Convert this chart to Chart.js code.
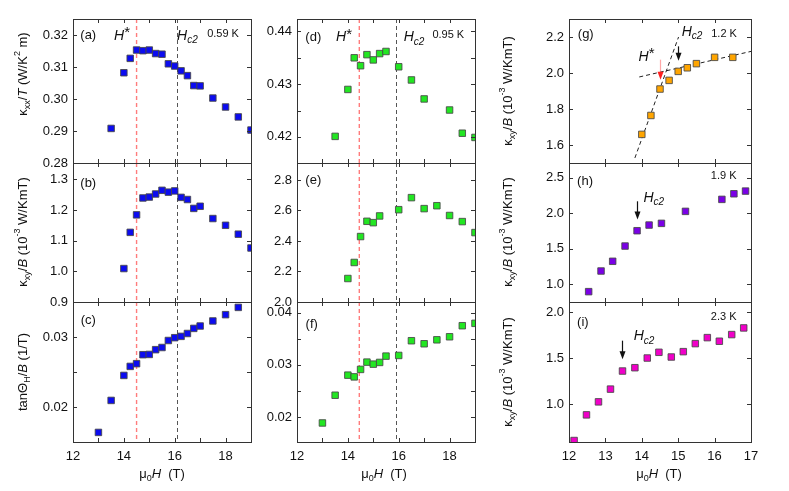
<!DOCTYPE html>
<html>
<head>
<meta charset="utf-8">
<title>Thermal Hall field scans</title>
<script src="https://cdn.jsdelivr.net/npm/chart.js@4.4.1/dist/chart.umd.min.js"></script>
<style>
  html, body { margin: 0; padding: 0; background: #fff; }
  #figure { position: relative; width: 789px; height: 491px; }
  #figure canvas { position: absolute; left: 0; top: 0; }
</style>
</head>
<body>
<div id="figure"></div>
<script>
// ===================================================
// DATA
// ===================================================

// column 1 : 0.59 K
const fieldA = [13.5, 14, 14.25, 14.5, 14.75, 15, 15.25, 15.5, 15.75, 16, 16.25, 16.5, 16.75, 17, 17.5, 18, 18.5, 19];
const kxxA = [0.2908, 0.3082, 0.3127, 0.3153, 0.3151, 0.3153, 0.3142, 0.3140, 0.3110, 0.3103, 0.3088, 0.3073, 0.3042, 0.3041, 0.3003, 0.2975, 0.2944, 0.2903];
const fieldB = [14, 14.25, 14.5, 14.75, 15, 15.25, 15.5, 15.75, 16, 16.25, 16.5, 16.75, 17, 17.5, 18, 18.5, 19];
const kxyB = [1.009, 1.127, 1.184, 1.239, 1.242, 1.252, 1.264, 1.258, 1.262, 1.241, 1.234, 1.205, 1.212, 1.172, 1.150, 1.121, 1.076];
const fieldC = [13, 13.5, 14, 14.25, 14.5, 14.75, 15, 15.25, 15.5, 15.75, 16, 16.25, 16.5, 16.75, 17, 17.5, 18, 18.5];
const tanC = [0.01637, 0.02094, 0.02451, 0.0258, 0.02619, 0.02747, 0.02751, 0.02819, 0.0285, 0.0295, 0.0299, 0.03009, 0.0305, 0.03123, 0.03157, 0.03229, 0.03319, 0.03423];

// column 2 : 0.95 K
const fieldD = [13.5, 14, 14.25, 14.5, 14.75, 15, 15.25, 15.5, 16, 16.5, 17, 18, 18.5, 19];
const kxxD = [0.4201, 0.4290, 0.4350, 0.4335, 0.4356, 0.4346, 0.4358, 0.4362, 0.4333, 0.4308, 0.4272, 0.4251, 0.4207, 0.4199];
const fieldE = [14, 14.25, 14.5, 14.75, 15, 15.25, 16, 16.5, 17, 17.5, 18, 18.5, 19];
const kxyE = [2.154, 2.259, 2.429, 2.529, 2.520, 2.564, 2.605, 2.684, 2.612, 2.631, 2.567, 2.527, 2.455];
const fieldF = [13, 13.5, 14, 14.25, 14.5, 14.75, 15, 15.25, 15.5, 16, 16.5, 17, 17.5, 18, 18.5, 19];
const tanF = [0.01885, 0.02417, 0.02802, 0.02769, 0.02912, 0.03052, 0.03013, 0.03046, 0.03167, 0.0318, 0.03462, 0.03404, 0.0348, 0.03538, 0.0375, 0.03796];

// column 3 : 1.2 K, 1.9 K, 2.3 K
const fieldG = [14, 14.25, 14.5, 14.75, 15, 15.25, 15.5, 16, 16.5];
const kxyG = [1.659, 1.764, 1.911, 1.959, 2.009, 2.029, 2.052, 2.087, 2.087];
const fieldH = [12.54, 12.88, 13.2, 13.54, 13.87, 14.2, 14.54, 15.2, 16.2, 16.53, 16.85];
const kxyH = [0.892, 1.183, 1.32, 1.535, 1.751, 1.831, 1.855, 2.024, 2.193, 2.272, 2.31];
const fieldI = [12.14, 12.48, 12.81, 13.14, 13.47, 13.81, 14.15, 14.47, 14.81, 15.14, 15.47, 15.8, 16.13, 16.47, 16.8];
const kxyI = [0.609, 0.887, 1.028, 1.166, 1.362, 1.398, 1.503, 1.565, 1.514, 1.572, 1.659, 1.724, 1.685, 1.757, 1.829];

// dashed guide lines in (g)
const fitSteepX = [13.81, 15.01];
const fitSteepY = [1.528, 2.2];
const fitFlatX = [13.93, 17.0];
const fitFlatY = [1.978, 2.12];

// H* and Hc2 markers (T)
const hStarCol1 = 14.5, hc2Col1 = 16.1;
const hStarCol2 = 14.45, hc2Col2 = 15.9;

// tick values and labels
const fieldTicks = [12, 13, 14, 15, 16, 17, 18, 19];
const fieldLabels = ['12', '', '14', '', '16', '', '18', ''];
const fieldTicksR = [12, 13, 14, 15, 16, 17];
const fieldLabelsR = ['12', '13', '14', '15', '16', '17'];
const ticksA = [0.28, 0.29, 0.30, 0.31, 0.32];
const labelsA = ['0.28', '0.29', '0.30', '0.31', '0.32'];
const ticksB = [0.9, 1.0, 1.1, 1.2, 1.3];
const labelsB = ['0.9', '1.0', '1.1', '1.2', '1.3'];
const ticksC = [0.015, 0.02, 0.025, 0.03, 0.035];
const labelsC = ['', '0.02', '', '0.03', ''];
const ticksD = [0.42, 0.425, 0.43, 0.435, 0.44];
const labelsD = ['0.42', '', '0.43', '', '0.44'];
const ticksE = [2.0, 2.2, 2.4, 2.6, 2.8];
const labelsE = ['2.0', '2.2', '2.4', '2.6', '2.8'];
const ticksF = [0.02, 0.025, 0.03, 0.035, 0.04];
const labelsF = ['0.02', '', '0.03', '', '0.04'];
const ticksG = [1.6, 1.8, 2.0, 2.2];
const labelsG = ['1.6', '1.8', '2.0', '2.2'];
const ticksH = [1.0, 1.5, 2.0, 2.5];
const labelsH = ['1.0', '1.5', '2.0', '2.5'];
const ticksI = [1.0, 1.5, 2.0];
const labelsI = ['1.0', '1.5', '2.0'];

// ===================================================
// STYLE
// ===================================================
const FONT = "'Liberation Sans', Arial, Helvetica, sans-serif";
const BLUE = '#0c0cf0';
const GREEN = '#22e622';
const ORANGE = '#ffa500';
const PURPLE = '#7a00e6';
const MAGENTA = '#f000c8';
const RED_DASH = ['rgba(255,110,110,0.9)', 1.4];
const GRAY_DASH = ['#555', 1];
const FRAME = '#333';

Chart.defaults.font.family = FONT;
Chart.defaults.font.size = 13;
Chart.defaults.color = '#111';

// rich text pieces: [text, kind]  kind: '' | 'i' | 'sub' | 'isub' | 'sup' | 'star'
const titleKxx = [['κ', ''], ['xx', 'sub'], ['/', ''], ['T', 'i'], [' (W/K', ''], ['2', 'sup'], [' m)', '']];
const titleKxy = [['κ', ''], ['xy', 'sub'], ['/', ''], ['B', 'i'], [' (10', ''], ['-3', 'sup'], [' W/KmT)', '']];
const titleTan = [['tanΘ', ''], ['H', 'sub'], ['/', ''], ['B', 'i'], [' (1/T)', '']];
const titleField = [['μ', ''], ['0', 'sub'], ['H', 'i'], ['  (T)', '']];
const hStar = [['H', 'i'], ['*', 'star']];
const hc2 = [['H', 'i'], ['c2', 'isub']];
const plain = s => [[s, '']];

function drawRich(ctx, parts, x, y, size, rotate) {
    const small = Math.round(size * 0.72);
    const fontOf = k => {
        const italic = (k === 'i' || k === 'isub') ? 'italic ' : '';
        let sz = size;
        if (k === 'sub' || k === 'isub' || k === 'sup') sz = small;
        if (k === 'star') sz = Math.round(size * 1.05);
        return italic + sz + 'px ' + FONT;
    };
    const shiftOf = k => {
        if (k === 'sub' || k === 'isub') return size * 0.32;
        if (k === 'sup') return -size * 0.4;
        if (k === 'star') return -size * 0.22;
        return 0;
    };
    ctx.save();
    ctx.translate(x, y);
    if (rotate) ctx.rotate(-Math.PI / 2);
    let total = 0;
    const widths = parts.map(([t, k]) => {
        ctx.font = fontOf(k);
        const w = ctx.measureText(t).width;
        total += w;
        return w;
    });
    let cx = -total / 2;
    ctx.fillStyle = '#111';
    ctx.textBaseline = 'middle';
    ctx.textAlign = 'left';
    parts.forEach(([t, k], i) => {
        ctx.font = fontOf(k);
        ctx.fillText(t, cx, shiftOf(k));
        cx += widths[i];
    });
    ctx.restore();
}

// ===================================================
// PANELS
// ===================================================
const panels = [
    { id: 'a', rect: [73, 19, 251, 163], xr: [12, 19], yr: [0.28, 0.325], xs: fieldA, ys: kxxA, color: BLUE,
      xTicks: fieldTicks, xLabels: null, yTicks: ticksA, yLabels: labelsA,
      marks: [[hStarCol1, RED_DASH], [hc2Col1, GRAY_DASH]],
      texts: [[plain('(a)'), 12.6, 0.3198, 13], [hStar, 13.93, 0.3198, 14], [hc2, 16.5, 0.3198, 14], [plain('0.59 K'), 17.9, 0.3202, 11]],
      titles: [[titleKxx, 23, 74, true]] },
    { id: 'b', rect: [73, 163, 251, 302], xr: [12, 19], yr: [0.9, 1.353], xs: fieldB, ys: kxyB, color: BLUE,
      xTicks: fieldTicks, xLabels: null, yTicks: ticksB, yLabels: labelsB,
      marks: [[hStarCol1, RED_DASH], [hc2Col1, GRAY_DASH]],
      texts: [[plain('(b)'), 12.6, 1.287, 13]],
      titles: [[titleKxy, 23, 232, true]] },
    { id: 'c', rect: [73, 302, 251, 442], xr: [12, 19], yr: [0.015, 0.035], xs: fieldC, ys: tanC, color: BLUE,
      xTicks: fieldTicks, xLabels: fieldLabels, yTicks: ticksC, yLabels: labelsC,
      marks: [[hStarCol1, RED_DASH], [hc2Col1, GRAY_DASH]],
      texts: [[plain('(c)'), 12.6, 0.03237, 13]],
      titles: [[titleTan, 23, 372, true], [titleField, 162, 474, false]] },
    { id: 'd', rect: [297, 19, 475, 163], xr: [12, 19], yr: [0.41505, 0.44236], xs: fieldD, ys: kxxD, color: GREEN,
      xTicks: fieldTicks, xLabels: null, yTicks: ticksD, yLabels: labelsD,
      marks: [[hStarCol2, RED_DASH], [hc2Col2, GRAY_DASH]],
      texts: [[plain('(d)'), 12.64, 0.43886, 13], [hStar, 13.85, 0.43886, 14], [hc2, 16.6, 0.43886, 14], [plain('0.95 K'), 17.95, 0.4394, 11]],
      titles: [] },
    { id: 'e', rect: [297, 163, 475, 302], xr: [12, 19], yr: [2.0, 2.911], xs: fieldE, ys: kxyE, color: GREEN,
      xTicks: fieldTicks, xLabels: null, yTicks: ticksE, yLabels: labelsE,
      marks: [[hStarCol2, RED_DASH], [hc2Col2, GRAY_DASH]],
      texts: [[plain('(e)'), 12.64, 2.8, 13]],
      titles: [] },
    { id: 'f', rect: [297, 302, 475, 442], xr: [12, 19], yr: [0.0152, 0.04205], xs: fieldF, ys: tanF, color: GREEN,
      xTicks: fieldTicks, xLabels: fieldLabels, yTicks: ticksF, yLabels: labelsF,
      marks: [[hStarCol2, RED_DASH], [hc2Col2, GRAY_DASH]],
      texts: [[plain('(f)'), 12.58, 0.03783, 13]],
      titles: [[titleField, 384, 474, false]] },
    { id: 'g', rect: [569, 19, 751, 163], xr: [12, 17], yr: [1.5, 2.3], xs: fieldG, ys: kxyG, color: ORANGE,
      xTicks: fieldTicksR, xLabels: null, yTicks: ticksG, yLabels: labelsG,
      marks: [],
      fits: [[fitSteepX, fitSteepY], [fitFlatX, fitFlatY]],
      arrows: [[14.5, 2.074, 1.963, 'rgba(255,60,60,0.45)', '#ff2020'], [15.0, 2.148, 2.068, '#111', '#111']],
      texts: [[plain('(g)'), 12.46, 2.213, 13], [hStar, 14.13, 2.089, 14], [hc2, 15.38, 2.228, 14], [plain('1.2 K'), 16.26, 2.218, 11]],
      titles: [[titleKxy, 508, 91, true]] },
    { id: 'h', rect: [569, 163, 751, 302], xr: [12, 17], yr: [0.746, 2.706], xs: fieldH, ys: kxyH, color: PURPLE,
      xTicks: fieldTicksR, xLabels: null, yTicks: ticksH, yLabels: labelsH,
      marks: [],
      arrows: [[13.87, 2.166, 1.911, '#111', '#111']],
      texts: [[plain('(h)'), 12.44, 2.45, 13], [hc2, 14.33, 2.217, 14], [plain('1.9 K'), 16.25, 2.525, 11]],
      titles: [[titleKxy, 508, 232, true]] },
    { id: 'i', rect: [569, 302, 751, 442], xr: [12, 17], yr: [0.593, 2.11], xs: fieldI, ys: kxyI, color: MAGENTA,
      xTicks: fieldTicksR, xLabels: fieldLabelsR, yTicks: ticksI, yLabels: labelsI,
      marks: [],
      arrows: [[13.45, 1.691, 1.489, '#111', '#111']],
      texts: [[plain('(i)'), 12.38, 1.887, 13], [hc2, 14.06, 1.735, 14], [plain('2.3 K'), 16.25, 1.946, 11]],
      titles: [[titleKxy, 508, 372, true], [titleField, 659, 474, false]] }
];

// ===================================================
// PANEL PLUGIN (frame, inward ticks, guides, labels)
// ===================================================
function panelPlugin(p) {
    return {
        id: 'panel_' + p.id,
        beforeDatasetsDraw(chart) {
            const { ctx, chartArea: a, scales: { x } } = chart;
            p.marks.forEach(([v, [color, width]]) => {
                const px = x.getPixelForValue(v);
                const lx = width > 1 ? px : Math.round(px) + 0.5;
                ctx.save();
                ctx.strokeStyle = color;
                ctx.lineWidth = width;
                ctx.setLineDash([4, 3]);
                ctx.beginPath();
                ctx.moveTo(lx, a.top);
                ctx.lineTo(lx, a.bottom);
                ctx.stroke();
                ctx.restore();
            });
        },
        afterDraw(chart) {
            const { ctx, chartArea: a, scales: { x, y } } = chart;
            ctx.save();
            ctx.strokeStyle = FRAME;
            ctx.lineWidth = 1;
            ctx.beginPath();
            x.ticks.forEach(t => {
                const px = Math.round(x.getPixelForValue(t.value)) + 0.5;
                ctx.moveTo(px, a.bottom); ctx.lineTo(px, a.bottom - 4);
                ctx.moveTo(px, a.top); ctx.lineTo(px, a.top + 4);
            });
            y.ticks.forEach(t => {
                const py = Math.round(y.getPixelForValue(t.value)) + 0.5;
                ctx.moveTo(a.left, py); ctx.lineTo(a.left + 4, py);
                ctx.moveTo(a.right, py); ctx.lineTo(a.right - 4, py);
            });
            ctx.stroke();
            ctx.strokeRect(a.left + 0.5, a.top + 0.5, a.right - a.left, a.bottom - a.top);
            ctx.restore();

            // arrows
            (p.arrows || []).forEach(([v, from, to, shaft, head]) => {
                const px = Math.round(x.getPixelForValue(v)) + 0.5;
                const y1 = y.getPixelForValue(from);
                const y2 = y.getPixelForValue(to);
                ctx.save();
                ctx.strokeStyle = shaft;
                ctx.lineWidth = 1.2;
                ctx.beginPath();
                ctx.moveTo(px, y1);
                ctx.lineTo(px, y2 - 5);
                ctx.stroke();
                ctx.fillStyle = head;
                ctx.beginPath();
                ctx.moveTo(px - 3, y2 - 8);
                ctx.lineTo(px + 3, y2 - 8);
                ctx.lineTo(px, y2);
                ctx.closePath();
                ctx.fill();
                ctx.restore();
            });

            p.texts.forEach(([parts, tx, ty, size]) => {
                drawRich(ctx, parts, x.getPixelForValue(tx), y.getPixelForValue(ty), size, false);
            });
            p.titles.forEach(([parts, px, py, rot]) => drawRich(ctx, parts, px, py, 13, rot));
        }
    };
}

// ===================================================
// BUILD CHARTS
// ===================================================
const figure = document.getElementById('figure');
const W = 789, H = 491;
const Y_AXIS_W = 40, X_AXIS_H = 30;

panels.forEach(p => {
    const canvas = document.createElement('canvas');
    canvas.width = W;
    canvas.height = H;
    figure.appendChild(canvas);

    const [l, t, r, b] = p.rect;
    const xAxisH = p.xLabels ? X_AXIS_H : 0;

    const datasets = [{
        data: p.xs.map((v, i) => ({ x: v, y: p.ys[i] })),
        pointStyle: 'rect',
        pointRadius: 4.6,
        backgroundColor: p.color,
        borderColor: 'rgba(70,70,70,0.85)',
        borderWidth: 1,
        showLine: false
    }];
    (p.fits || []).forEach(([fx, fy]) => {
        datasets.push({
            data: fx.map((v, i) => ({ x: v, y: fy[i] })),
            showLine: true,
            borderColor: '#222',
            borderWidth: 1,
            borderDash: [4, 3],
            pointRadius: 0,
            order: 1
        });
    });

    new Chart(canvas, {
        type: 'scatter',
        data: { datasets },
        options: {
            responsive: false,
            animation: false,
            devicePixelRatio: 1,
            events: [],
            layout: { padding: { left: l - Y_AXIS_W, top: t, right: W - r, bottom: H - b - xAxisH } },
            plugins: { legend: { display: false }, tooltip: { enabled: false } },
            scales: {
                x: {
                    type: 'linear', position: 'bottom', min: p.xr[0], max: p.xr[1],
                    afterBuildTicks: s => { s.ticks = p.xTicks.map(v => ({ value: v })); },
                    afterFit: s => { s.height = xAxisH; },
                    grid: { display: false, drawTicks: false },
                    border: { display: false },
                    ticks: {
                        display: !!p.xLabels, autoSkip: false, maxRotation: 0, padding: 7,
                        callback: (v, i) => p.xLabels ? p.xLabels[i] : ''
                    }
                },
                y: {
                    type: 'linear', position: 'left', min: p.yr[0], max: p.yr[1],
                    afterBuildTicks: s => { s.ticks = p.yTicks.map(v => ({ value: v })); },
                    afterFit: s => { s.width = Y_AXIS_W; },
                    grid: { display: false, drawTicks: false },
                    border: { display: false },
                    ticks: { autoSkip: false, padding: 5, callback: (v, i) => p.yLabels[i] }
                }
            }
        },
        plugins: [panelPlugin(p)]
    });
});
</script>
</body>
</html>
